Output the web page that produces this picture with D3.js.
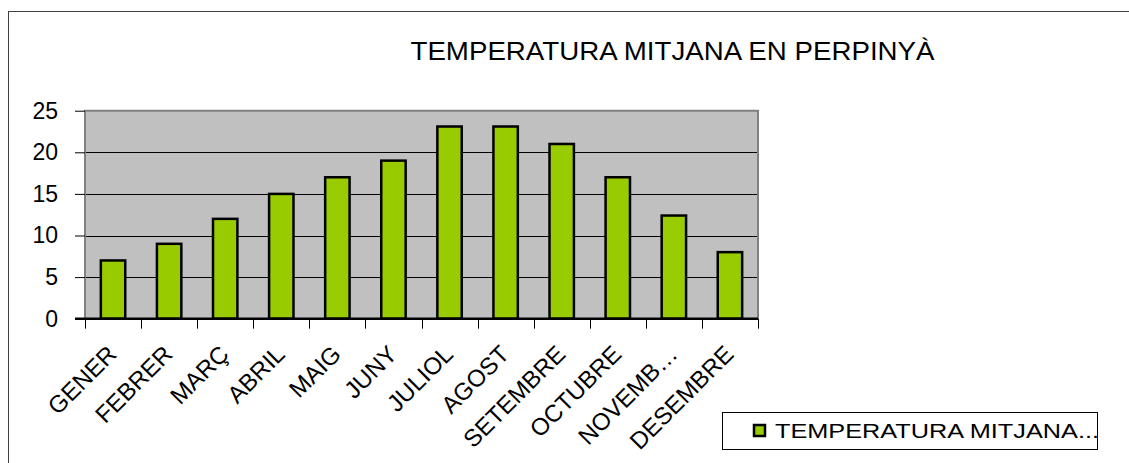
<!DOCTYPE html>
<html lang="ca">
<head>
    <meta charset="UTF-8">
    <title>Temperatura mitjana en Perpinyà</title>
    <script src="https://d3js.org/d3.v7.min.js"></script>
    <style>
        body {
            margin: 0;
            background: #fff;
            font-family: "Liberation Sans", Arial, sans-serif;
        }
        svg {
            display: block;
        }
    </style>
</head>
<body>
    <div id="chart"></div>

    <script>
        // Data
        const months = ["GENER", "FEBRER", "MARÇ", "ABRIL", "MAIG", "JUNY", "JULIOL",
                        "AGOST", "SETEMBRE", "OCTUBRE", "NOVEMB…", "DESEMBRE"];
        const temperatures = [7, 9, 12, 15, 17, 19, 23.1, 23.1, 21, 17, 12.4, 8];
        const yTicks = [0, 5, 10, 15, 20, 25];
        const title = "TEMPERATURA MITJANA EN PERPINYÀ";
        const seriesName = "TEMPERATURA MITJANA...";

        const W = 1129, H = 463;
        const plot = { left: 85, right: 758, top: 110.7, bottom: 318.7 };

        const svg = d3.select("#chart")
            .append("svg")
            .attr("width", W)
            .attr("height", H);

        // Outer chart border (runs past the right and bottom edges)
        svg.append("rect")
            .attr("x", 8.5).attr("y", 11.5)
            .attr("width", 1140).attr("height", 470)
            .attr("fill", "#fff")
            .attr("stroke", "#404040")
            .attr("stroke-width", 1);

        // Scales
        const x = d3.scaleBand().domain(months).range([plot.left, plot.right]).padding(0);
        const y = d3.scaleLinear().domain([0, 25]).range([plot.bottom, plot.top]);
        const barW = x.bandwidth() * 0.435;

        // Plot background
        svg.append("rect")
            .attr("x", plot.left).attr("y", plot.top)
            .attr("width", plot.right - plot.left)
            .attr("height", plot.bottom - plot.top)
            .attr("fill", "#c0c0c0");

        // Grid lines
        svg.selectAll(".grid")
            .data(yTicks.filter(d => d > 0 && d < 25))
            .enter()
            .append("line")
            .attr("class", "grid")
            .attr("x1", plot.left).attr("x2", plot.right)
            .attr("y1", d => Math.round(y(d)) + 0.5)
            .attr("y2", d => Math.round(y(d)) + 0.5)
            .attr("stroke", "#000")
            .attr("stroke-width", 1);

        // Plot border top / right / left (gray)
        svg.append("path")
            .attr("d", `M${plot.left},${plot.bottom} V${plot.top} H${plot.right} V${plot.bottom}`)
            .attr("fill", "none")
            .attr("stroke", "#808080")
            .attr("stroke-width", 2);

        // Bars
        svg.selectAll(".bar")
            .data(temperatures)
            .enter()
            .append("rect")
            .attr("class", "bar")
            .attr("x", (d, i) => x(months[i]) + (x.bandwidth() - barW) / 2)
            .attr("y", d => y(d))
            .attr("width", barW)
            .attr("height", d => plot.bottom - y(d))
            .attr("fill", "#99cc00")
            .attr("stroke", "#000")
            .attr("stroke-width", 2.5);

        // Y axis
        const yAxis = svg.append("g")
            .attr("transform", `translate(${plot.left},0)`)
            .call(d3.axisLeft(y).tickValues(yTicks).tickSize(10).tickPadding(17));
        yAxis.select(".domain").remove();
        yAxis.selectAll(".tick line").attr("stroke", "#000");
        yAxis.selectAll(".tick text")
            .attr("font-family", "Liberation Sans, Arial, sans-serif")
            .attr("font-size", 23)
            .attr("fill", "#000");

        // X axis
        const xAxis = svg.append("g")
            .attr("transform", `translate(0,${plot.bottom})`);
        xAxis.append("line")
            .attr("x1", plot.left - 10).attr("x2", plot.right)
            .attr("y1", 0).attr("y2", 0)
            .attr("stroke", "#000")
            .attr("stroke-width", 2.5);
        xAxis.selectAll(".xtick")
            .data(d3.range(months.length + 1))
            .enter()
            .append("line")
            .attr("class", "xtick")
            .attr("x1", i => Math.round(plot.left + i * x.step()) + 0.5)
            .attr("x2", i => Math.round(plot.left + i * x.step()) + 0.5)
            .attr("y1", 0).attr("y2", 10)
            .attr("stroke", "#000");
        xAxis.selectAll(".xlabel")
            .data(months)
            .enter()
            .append("text")
            .attr("class", "xlabel")
            .attr("transform", d => `translate(${x(d) + x.bandwidth() / 2 + 5},37) rotate(-45)`)
            .attr("text-anchor", "end")
            .attr("font-size", 24)
            .attr("fill", "#000")
            .text(d => d);

        // Title
        svg.append("text")
            .attr("x", 672.5).attr("y", 59.5)
            .attr("text-anchor", "middle")
            .attr("font-size", 26)
            .attr("textLength", 524)
            .attr("lengthAdjust", "spacingAndGlyphs")
            .attr("fill", "#000")
            .text(title);

        // Legend
        const legend = svg.append("g");
        legend.append("rect")
            .attr("x", 722.5).attr("y", 412.5)
            .attr("width", 375).attr("height", 37)
            .attr("fill", "#fff")
            .attr("stroke", "#000");
        legend.append("rect")
            .attr("x", 754).attr("y", 425)
            .attr("width", 11).attr("height", 11)
            .attr("fill", "#99cc00")
            .attr("stroke", "#000")
            .attr("stroke-width", 2.5);
        legend.append("text")
            .attr("x", 775).attr("y", 437.5)
            .attr("font-size", 20)
            .attr("textLength", 324)
            .attr("lengthAdjust", "spacingAndGlyphs")
            .attr("fill", "#000")
            .text(seriesName);
    </script>
</body>
</html>
